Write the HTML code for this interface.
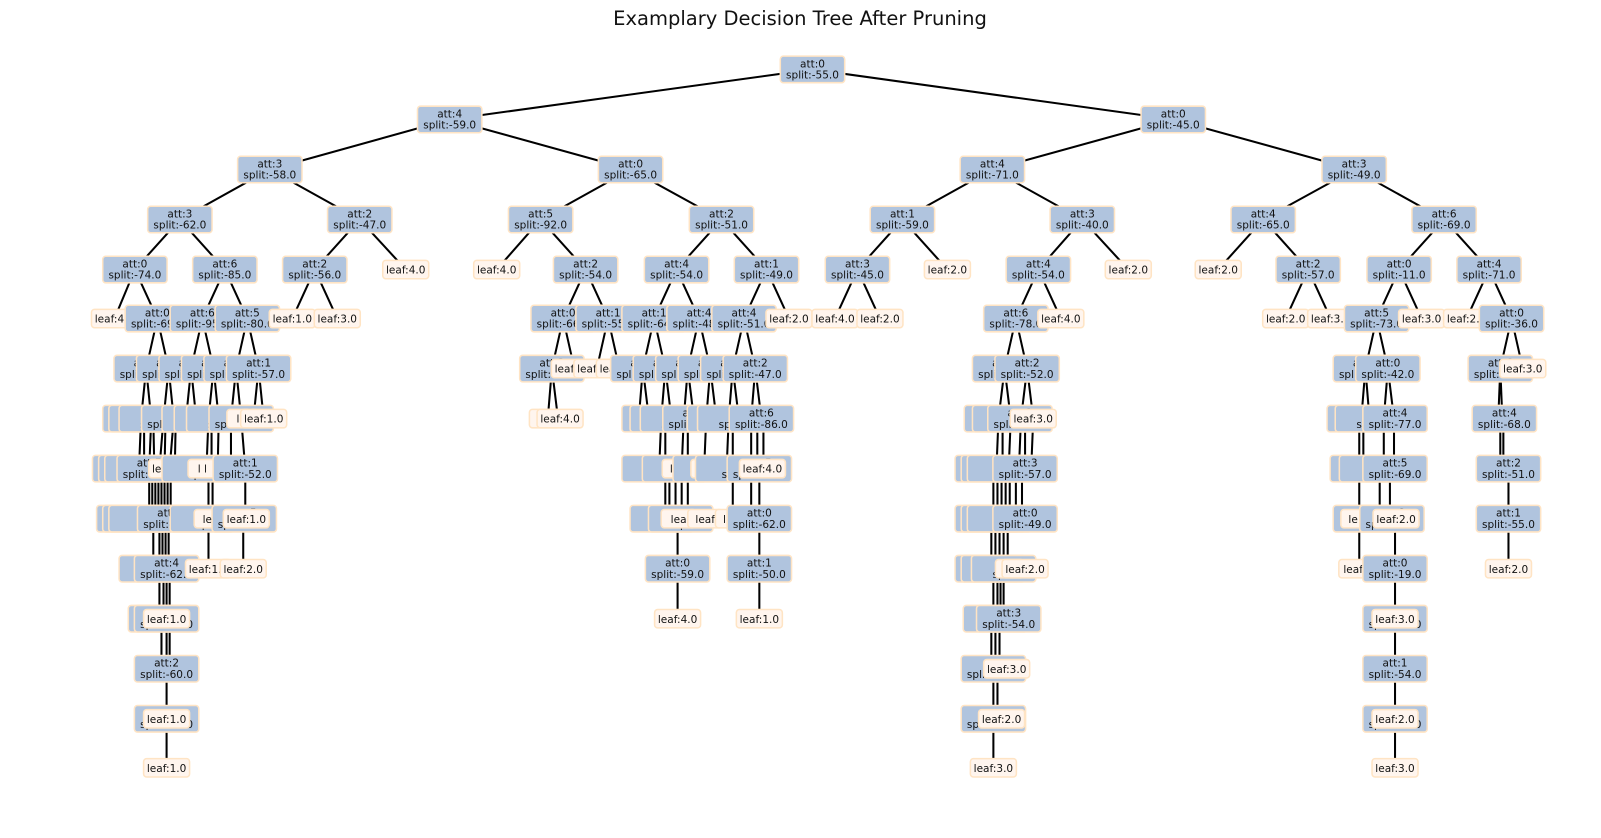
<!DOCTYPE html>
<html><head><meta charset="utf-8"><style>
html,body{margin:0;padding:0;background:#fff;}
svg{display:block}
.b{fill:#b0c4de;stroke:#ffe4c4;stroke-width:1.5}
.l{fill:#fff5ee;stroke:#ffe4c4;stroke-width:1.5}
text{font-family:"DejaVu Sans","Liberation Sans",sans-serif;font-size:10.3px;fill:#111;text-anchor:middle}
.e{stroke:#000;stroke-width:2;fill:none}
</style></head><body>
<svg width="1601" height="838" viewBox="0 0 1601 838" xmlns="http://www.w3.org/2000/svg">
<text x="800" y="25" style="font-size:19.5px">Examplary Decision Tree After Pruning</text>
<g transform="scale(1.022,1.021)">
<path class="e" d="
M795 68L440 117M795 68L1148 117
M440 117L264 166M440 117L617 166M1148 117L971 166M1148 117L1325 166
M264 166L176 215M264 166L352 215M617 166L529 215M617 166L706 215M971 166L883 215M971 166L1059 215M1325 166L1236 215M1325 166L1413 215
M176 215L132 264M176 215L220 264M352 215L308 264M352 215L397 264M529 215L486 264M529 215L573 264M706 215L662 264M706 215L750 264M883 215L839 264M883 215L927 264M1059 215L1016 264M1059 215L1104 264M1236 215L1192 264M1236 215L1280 264M1413 215L1369 264M1413 215L1457 264
M132 264L112 312M132 264L154 312M220 264L198 312M220 264L242 312M308 264L286 312M308 264L330 312M573 264L551 312M573 264L595 312M662 264L640 312M662 264L684 312M750 264L728 312M750 264L772 312M839 264L817 312M839 264L861 312M1016 264L994 312M1016 264L1038 312M1280 264L1258 312M1280 264L1302 312M1369 264L1347 312M1369 264L1391 312M1457 264L1435 312M1457 264L1479 312
M154 312L143 361M154 312L165 361M198 312L187 361M198 312L209 361M242 312L231 361M242 312L253 361M551 312L540 361M551 312L562 361M595 312L584 361M595 312L606 361M640 312L629 361M640 312L651 361M684 312L673 361M684 312L695 361M728 312L717 361M728 312L739 361M994 312L983 361M994 312L1005 361M1347 312L1336 361M1347 312L1358 361M1479 312L1468 361M1479 312L1490 361
M143 361L138 410M143 361L148 410M165 361L160 410M165 361L170 410M187 361L182 410M187 361L192 410M209 361L204 410M209 361L214 410M231 361L226 410M231 361L236 410M253 361L248 410M253 361L258 410
M540 361L536 410M540 361L546 410
M629 361L625 410M629 361L635 410M651 361L647 410M651 361L657 410M673 361L669 410M673 361L679 410M695 361L691 410M695 361L701 410M717 361L713 410M717 361L723 410M739 361L735 410M739 361L745 410
M983 361L977 410M983 361L989 410M1005 361L999 410M1005 361L1011 410
M1336 361L1332 410M1336 361L1340 410M1358 361L1354 410M1358 361L1364 410M1468 361L1466 410M1468 361L1470 410
M138 410L136 459M141 410L141 459M148 410L146 459M150 410L151 459M160 410L156 459M162 410L161 459M170 410L166 459M172 410L171 459M204 410L202 459M207 410L207 459M214 410L213 459M226 410L226 459M236 410L240 459
M647 410L645 459M651 410L651 459M669 410L667 459M673 410L673 459M691 410L689 459M713 410L711 459M717 410L717 459M735 410L735 459M741 410L741 459M747 410L747 459
M977 410L975 459M981 410L981 459M989 410L987 459M999 410L997 459M1003 410L1003 459M1011 410L1009 459
M1330 410L1330 459M1334 410L1334 459M1354 410L1354 459M1364 410L1364 459M1468 410L1468 459M1471 410L1471 459
M146 459L146 508M149 459L149 508M152 459L152 508M155 459L155 508M158 459L158 508M161 459L161 508M164 459L164 508M167 459L167 508M204 459L204 508M208 459L208 508M240 459L240 508
M651 459L651 508M655 459L655 508M661 459L661 508M667 459L667 508M673 459L673 508M717 459L717 508M735 459L735 508M743 459L743 508
M972 459L972 508M976 459L976 508M980 459L980 508M984 459L984 508M988 459L988 508M994 459L994 508M1000 459L1000 508
M1330 459L1330 508M1350 459L1350 508M1360 459L1360 508M1476 459L1476 508
M150 508L150 557M156 508L156 557M159 508L159 557M162 508L162 557M165 508L165 557M204 508L204 557M238 508L238 557
M663 508L663 557M743 508L743 557
M970 508L970 557M974 508L974 557M978 508L978 557M982 508L982 557M986 508L986 557
M1330 508L1330 557M1365 508L1365 557M1476 508L1476 557
M156 557L156 606M160 557L160 606M163 557L163 606M166 557L166 606M663 557L663 606M743 557L743 606
M972 557L972 606M976 557L976 606M979 557L979 606M982 557L982 606M1365 557L1365 606
M158 606L158 655M163 606L163 655M166 606L166 655M970 606L970 655M974 606L974 655M978 606L978 655M1365 606L1365 655
M163 655L163 704M972 655L972 704M976 655L976 704M1365 655L1365 704
M163 704L163 752M972 704L972 752M1365 704L1365 752
"/>
<!-- row 0-3 -->
<g transform="translate(795 68)"><rect class="b" x="-31.5" y="-13" width="63" height="26" rx="3"/><text y="-2">att:0</text><text y="9">split:-55.0</text></g>
<g transform="translate(440 117)"><rect class="b" x="-31.5" y="-13" width="63" height="26" rx="3"/><text y="-2">att:4</text><text y="9">split:-59.0</text></g>
<g transform="translate(1148 117)"><rect class="b" x="-31.5" y="-13" width="63" height="26" rx="3"/><text y="-2">att:0</text><text y="9">split:-45.0</text></g>
<g transform="translate(264 166)"><rect class="b" x="-31.5" y="-13" width="63" height="26" rx="3"/><text y="-2">att:3</text><text y="9">split:-58.0</text></g>
<g transform="translate(617 166)"><rect class="b" x="-31.5" y="-13" width="63" height="26" rx="3"/><text y="-2">att:0</text><text y="9">split:-65.0</text></g>
<g transform="translate(971 166)"><rect class="b" x="-31.5" y="-13" width="63" height="26" rx="3"/><text y="-2">att:4</text><text y="9">split:-71.0</text></g>
<g transform="translate(1325 166)"><rect class="b" x="-31.5" y="-13" width="63" height="26" rx="3"/><text y="-2">att:3</text><text y="9">split:-49.0</text></g>
<g transform="translate(176 215)"><rect class="b" x="-31.5" y="-13" width="63" height="26" rx="3"/><text y="-2">att:3</text><text y="9">split:-62.0</text></g>
<g transform="translate(352 215)"><rect class="b" x="-31.5" y="-13" width="63" height="26" rx="3"/><text y="-2">att:2</text><text y="9">split:-47.0</text></g>
<g transform="translate(529 215)"><rect class="b" x="-31.5" y="-13" width="63" height="26" rx="3"/><text y="-2">att:5</text><text y="9">split:-92.0</text></g>
<g transform="translate(706 215)"><rect class="b" x="-31.5" y="-13" width="63" height="26" rx="3"/><text y="-2">att:2</text><text y="9">split:-51.0</text></g>
<g transform="translate(883 215)"><rect class="b" x="-31.5" y="-13" width="63" height="26" rx="3"/><text y="-2">att:1</text><text y="9">split:-59.0</text></g>
<g transform="translate(1059 215)"><rect class="b" x="-31.5" y="-13" width="63" height="26" rx="3"/><text y="-2">att:3</text><text y="9">split:-40.0</text></g>
<g transform="translate(1236 215)"><rect class="b" x="-31.5" y="-13" width="63" height="26" rx="3"/><text y="-2">att:4</text><text y="9">split:-65.0</text></g>
<g transform="translate(1413 215)"><rect class="b" x="-31.5" y="-13" width="63" height="26" rx="3"/><text y="-2">att:6</text><text y="9">split:-69.0</text></g>
<!-- row 4 -->
<g transform="translate(132 264)"><rect class="b" x="-31.5" y="-13" width="63" height="26" rx="3"/><text y="-2">att:0</text><text y="9">split:-74.0</text></g>
<g transform="translate(220 264)"><rect class="b" x="-31.5" y="-13" width="63" height="26" rx="3"/><text y="-2">att:6</text><text y="9">split:-85.0</text></g>
<g transform="translate(308 264)"><rect class="b" x="-31.5" y="-13" width="63" height="26" rx="3"/><text y="-2">att:2</text><text y="9">split:-56.0</text></g>
<g transform="translate(397 264)"><rect class="l" x="-22.5" y="-9" width="45" height="18" rx="3"/><text y="4">leaf:4.0</text></g>
<g transform="translate(486 264)"><rect class="l" x="-22.5" y="-9" width="45" height="18" rx="3"/><text y="4">leaf:4.0</text></g>
<g transform="translate(573 264)"><rect class="b" x="-31.5" y="-13" width="63" height="26" rx="3"/><text y="-2">att:2</text><text y="9">split:-54.0</text></g>
<g transform="translate(662 264)"><rect class="b" x="-31.5" y="-13" width="63" height="26" rx="3"/><text y="-2">att:4</text><text y="9">split:-54.0</text></g>
<g transform="translate(750 264)"><rect class="b" x="-31.5" y="-13" width="63" height="26" rx="3"/><text y="-2">att:1</text><text y="9">split:-49.0</text></g>
<g transform="translate(839 264)"><rect class="b" x="-31.5" y="-13" width="63" height="26" rx="3"/><text y="-2">att:3</text><text y="9">split:-45.0</text></g>
<g transform="translate(927 264)"><rect class="l" x="-22.5" y="-9" width="45" height="18" rx="3"/><text y="4">leaf:2.0</text></g>
<g transform="translate(1016 264)"><rect class="b" x="-31.5" y="-13" width="63" height="26" rx="3"/><text y="-2">att:4</text><text y="9">split:-54.0</text></g>
<g transform="translate(1104 264)"><rect class="l" x="-22.5" y="-9" width="45" height="18" rx="3"/><text y="4">leaf:2.0</text></g>
<g transform="translate(1192 264)"><rect class="l" x="-22.5" y="-9" width="45" height="18" rx="3"/><text y="4">leaf:2.0</text></g>
<g transform="translate(1280 264)"><rect class="b" x="-31.5" y="-13" width="63" height="26" rx="3"/><text y="-2">att:2</text><text y="9">split:-57.0</text></g>
<g transform="translate(1369 264)"><rect class="b" x="-31.5" y="-13" width="63" height="26" rx="3"/><text y="-2">att:0</text><text y="9">split:-11.0</text></g>
<g transform="translate(1457 264)"><rect class="b" x="-31.5" y="-13" width="63" height="26" rx="3"/><text y="-2">att:4</text><text y="9">split:-71.0</text></g>
<!-- row 5 -->
<g transform="translate(112 312)"><rect class="l" x="-22.5" y="-9" width="45" height="18" rx="3"/><text y="4">leaf:4.0</text></g>
<g transform="translate(154 312)"><rect class="b" x="-31.5" y="-13" width="63" height="26" rx="3"/><text y="-2">att:0</text><text y="9">split:-69.0</text></g>
<g transform="translate(198 312)"><rect class="b" x="-31.5" y="-13" width="63" height="26" rx="3"/><text y="-2">att:6</text><text y="9">split:-95.0</text></g>
<g transform="translate(242 312)"><rect class="b" x="-31.5" y="-13" width="63" height="26" rx="3"/><text y="-2">att:5</text><text y="9">split:-80.0</text></g>
<g transform="translate(286 312)"><rect class="l" x="-22.5" y="-9" width="45" height="18" rx="3"/><text y="4">leaf:1.0</text></g>
<g transform="translate(330 312)"><rect class="l" x="-22.5" y="-9" width="45" height="18" rx="3"/><text y="4">leaf:3.0</text></g>
<g transform="translate(551 312)"><rect class="b" x="-31.5" y="-13" width="63" height="26" rx="3"/><text y="-2">att:0</text><text y="9">split:-66.0</text></g>
<g transform="translate(595 312)"><rect class="b" x="-31.5" y="-13" width="63" height="26" rx="3"/><text y="-2">att:1</text><text y="9">split:-55.0</text></g>
<g transform="translate(640 312)"><rect class="b" x="-31.5" y="-13" width="63" height="26" rx="3"/><text y="-2">att:1</text><text y="9">split:-64.0</text></g>
<g transform="translate(684 312)"><rect class="b" x="-31.5" y="-13" width="63" height="26" rx="3"/><text y="-2">att:4</text><text y="9">split:-48.0</text></g>
<g transform="translate(728 312)"><rect class="b" x="-31.5" y="-13" width="63" height="26" rx="3"/><text y="-2">att:4</text><text y="9">split:-51.0</text></g>
<g transform="translate(772 312)"><rect class="l" x="-22.5" y="-9" width="45" height="18" rx="3"/><text y="4">leaf:2.0</text></g>
<g transform="translate(817 312)"><rect class="l" x="-22.5" y="-9" width="45" height="18" rx="3"/><text y="4">leaf:4.0</text></g>
<g transform="translate(861 312)"><rect class="l" x="-22.5" y="-9" width="45" height="18" rx="3"/><text y="4">leaf:2.0</text></g>
<g transform="translate(994 312)"><rect class="b" x="-31.5" y="-13" width="63" height="26" rx="3"/><text y="-2">att:6</text><text y="9">split:-78.0</text></g>
<g transform="translate(1038 312)"><rect class="l" x="-22.5" y="-9" width="45" height="18" rx="3"/><text y="4">leaf:4.0</text></g>
<g transform="translate(1258 312)"><rect class="l" x="-22.5" y="-9" width="45" height="18" rx="3"/><text y="4">leaf:2.0</text></g>
<g transform="translate(1302 312)"><rect class="l" x="-22.5" y="-9" width="45" height="18" rx="3"/><text y="4">leaf:3.0</text></g>
<g transform="translate(1347 312)"><rect class="b" x="-31.5" y="-13" width="63" height="26" rx="3"/><text y="-2">att:5</text><text y="9">split:-73.0</text></g>
<g transform="translate(1391 312)"><rect class="l" x="-22.5" y="-9" width="45" height="18" rx="3"/><text y="4">leaf:3.0</text></g>
<g transform="translate(1435 312)"><rect class="l" x="-22.5" y="-9" width="45" height="18" rx="3"/><text y="4">leaf:2.0</text></g>
<g transform="translate(1479 312)"><rect class="b" x="-31.5" y="-13" width="63" height="26" rx="3"/><text y="-2">att:0</text><text y="9">split:-36.0</text></g>
<!-- row 6 -->
<g transform="translate(143 361)"><rect class="b" x="-31.5" y="-13" width="63" height="26" rx="3"/><text y="-2">att:1</text><text y="9">split:-70.0</text></g>
<g transform="translate(165 361)"><rect class="b" x="-31.5" y="-13" width="63" height="26" rx="3"/><text y="-2">att:5</text><text y="9">split:-64.0</text></g>
<g transform="translate(180 361)"><rect class="l" x="-12" y="-9" width="30" height="18" rx="3"/><text y="4">le</text></g>
<g transform="translate(187 361)"><rect class="b" x="-31.5" y="-13" width="63" height="26" rx="3"/><text y="-2">att:2</text><text y="9">split:-92.0</text></g>
<g transform="translate(209 361)"><rect class="b" x="-31.5" y="-13" width="63" height="26" rx="3"/><text y="-2">att:0</text><text y="9">split:-83.0</text></g>
<g transform="translate(231 361)"><rect class="b" x="-31.5" y="-13" width="63" height="26" rx="3"/><text y="-2">att:3</text><text y="9">split:-88.0</text></g>
<g transform="translate(253 361)"><rect class="b" x="-31.5" y="-13" width="63" height="26" rx="3"/><text y="-2">att:1</text><text y="9">split:-57.0</text></g>
<g transform="translate(540 361)"><rect class="b" x="-31.5" y="-13" width="63" height="26" rx="3"/><text y="-2">att:3</text><text y="9">split:-70.0</text></g>
<g transform="translate(562 361)"><rect class="l" x="-22.5" y="-9" width="45" height="18" rx="3"/><text y="4">leaf:1.0</text></g>
<g transform="translate(584 361)"><rect class="l" x="-22.5" y="-9" width="45" height="18" rx="3"/><text y="4">leaf:3.0</text></g>
<g transform="translate(606 361)"><rect class="l" x="-22.5" y="-9" width="45" height="18" rx="3"/><text y="4">leaf:1.0</text></g>
<g transform="translate(629 361)"><rect class="b" x="-31.5" y="-13" width="63" height="26" rx="3"/><text y="-2">att:2</text><text y="9">split:-66.0</text></g>
<g transform="translate(651 361)"><rect class="b" x="-31.5" y="-13" width="63" height="26" rx="3"/><text y="-2">att:3</text><text y="9">split:-61.0</text></g>
<g transform="translate(673 361)"><rect class="b" x="-31.5" y="-13" width="63" height="26" rx="3"/><text y="-2">att:5</text><text y="9">split:-50.0</text></g>
<g transform="translate(695 361)"><rect class="b" x="-31.5" y="-13" width="63" height="26" rx="3"/><text y="-2">att:1</text><text y="9">split:-58.0</text></g>
<g transform="translate(717 361)"><rect class="b" x="-31.5" y="-13" width="63" height="26" rx="3"/><text y="-2">att:0</text><text y="9">split:-53.0</text></g>
<g transform="translate(739 361)"><rect class="b" x="-31.5" y="-13" width="63" height="26" rx="3"/><text y="-2">att:2</text><text y="9">split:-47.0</text></g>
<g transform="translate(983 361)"><rect class="b" x="-31.5" y="-13" width="63" height="26" rx="3"/><text y="-2">att:1</text><text y="9">split:-80.0</text></g>
<g transform="translate(1005 361)"><rect class="b" x="-31.5" y="-13" width="63" height="26" rx="3"/><text y="-2">att:2</text><text y="9">split:-52.0</text></g>
<g transform="translate(1336 361)"><rect class="b" x="-31.5" y="-13" width="63" height="26" rx="3"/><text y="-2">att:1</text><text y="9">split:-75.0</text></g>
<g transform="translate(1358 361)"><rect class="b" x="-31.5" y="-13" width="63" height="26" rx="3"/><text y="-2">att:0</text><text y="9">split:-42.0</text></g>
<g transform="translate(1468 361)"><rect class="b" x="-31.5" y="-13" width="63" height="26" rx="3"/><text y="-2">att:6</text><text y="9">split:-40.0</text></g>
<g transform="translate(1490 361)"><rect class="l" x="-22.5" y="-9" width="45" height="18" rx="3"/><text y="4">leaf:3.0</text></g>
<!-- row 7 -->
<g transform="translate(132 410)"><rect class="b" x="-31.5" y="-13" width="63" height="26" rx="3"/><text y="9">split</text></g>
<g transform="translate(138 410)"><rect class="b" x="-31.5" y="-13" width="63" height="26" rx="3"/><text y="9">split</text></g>
<g transform="translate(148 410)"><rect class="b" x="-31.5" y="-13" width="63" height="26" rx="3"/><text y="9">split</text></g>
<g transform="translate(170 410)"><rect class="b" x="-31.5" y="-13" width="63" height="26" rx="3"/><text y="-2">att:5</text><text y="9">split:-61.0</text></g>
<g transform="translate(190 410)"><rect class="b" x="-31.5" y="-13" width="63" height="26" rx="3"/><text y="9">split</text></g>
<g transform="translate(202 410)"><rect class="b" x="-31.5" y="-13" width="63" height="26" rx="3"/><text y="9">split</text></g>
<g transform="translate(214 410)"><rect class="b" x="-31.5" y="-13" width="63" height="26" rx="3"/><text y="9">split</text></g>
<g transform="translate(236 410)"><rect class="b" x="-31.5" y="-13" width="63" height="26" rx="3"/><text y="-2">att:2</text><text y="9">split:-79.0</text></g>
<g transform="translate(236 410)"><rect class="l" x="-14" y="-9" width="30" height="18" rx="3"/><text y="4">le</text></g>
<g transform="translate(258 410)"><rect class="l" x="-22.5" y="-9" width="45" height="18" rx="3"/><text y="4">leaf:1.0</text></g>
<g transform="translate(532 410)"><rect class="l" x="-14" y="-9" width="30" height="18" rx="3"/><text y="4">le</text></g>
<g transform="translate(548 410)"><rect class="l" x="-22.5" y="-9" width="45" height="18" rx="3"/><text y="4">leaf:4.0</text></g>
<g transform="translate(640 410)"><rect class="b" x="-31.5" y="-13" width="63" height="26" rx="3"/><text y="9">split</text></g>
<g transform="translate(648 410)"><rect class="b" x="-31.5" y="-13" width="63" height="26" rx="3"/><text y="9">split</text></g>
<g transform="translate(658 410)"><rect class="b" x="-31.5" y="-13" width="63" height="26" rx="3"/><text y="9">split</text></g>
<g transform="translate(680 410)"><rect class="b" x="-31.5" y="-13" width="63" height="26" rx="3"/><text y="-2">att:3</text><text y="9">split:-52.0</text></g>
<g transform="translate(704 410)"><rect class="b" x="-31.5" y="-13" width="63" height="26" rx="3"/><text y="9">split</text></g>
<g transform="translate(714 410)"><rect class="b" x="-31.5" y="-13" width="63" height="26" rx="3"/><text y="9">split</text></g>
<g transform="translate(745 410)"><rect class="b" x="-31.5" y="-13" width="63" height="26" rx="3"/><text y="-2">att:6</text><text y="9">split:-86.0</text></g>
<g transform="translate(975 410)"><rect class="b" x="-31.5" y="-13" width="63" height="26" rx="3"/><text y="9">split</text></g>
<g transform="translate(983 410)"><rect class="b" x="-31.5" y="-13" width="63" height="26" rx="3"/><text y="9">split</text></g>
<g transform="translate(998 410)"><rect class="b" x="-31.5" y="-13" width="63" height="26" rx="3"/><text y="-2">att:1</text><text y="9">split:-60.0</text></g>
<g transform="translate(1011 410)"><rect class="l" x="-22.5" y="-9" width="45" height="18" rx="3"/><text y="4">leaf:3.0</text></g>
<g transform="translate(1330 410)"><rect class="b" x="-31.5" y="-13" width="63" height="26" rx="3"/><text y="9">split</text></g>
<g transform="translate(1338 410)"><rect class="b" x="-31.5" y="-13" width="63" height="26" rx="3"/><text y="9">split</text></g>
<g transform="translate(1365 410)"><rect class="b" x="-31.5" y="-13" width="63" height="26" rx="3"/><text y="-2">att:4</text><text y="9">split:-77.0</text></g>
<g transform="translate(1472 410)"><rect class="b" x="-31.5" y="-13" width="63" height="26" rx="3"/><text y="-2">att:4</text><text y="9">split:-68.0</text></g>
<!-- row 8 -->
<g transform="translate(122 459)"><rect class="b" x="-31.5" y="-13" width="63" height="26" rx="3"/><text y="9">s</text></g>
<g transform="translate(128 459)"><rect class="b" x="-31.5" y="-13" width="63" height="26" rx="3"/><text y="9">s</text></g>
<g transform="translate(134 459)"><rect class="b" x="-31.5" y="-13" width="63" height="26" rx="3"/><text y="9">s</text></g>
<g transform="translate(146 459)"><rect class="b" x="-31.5" y="-13" width="63" height="26" rx="3"/><text y="-2">att:5</text><text y="9">split:-66.0</text></g>
<g transform="translate(168 459)"><rect class="l" x="-22.5" y="-9" width="45" height="18" rx="3"/><text y="4">leaf:1.0</text></g>
<g transform="translate(190 459)"><rect class="b" x="-31.5" y="-13" width="63" height="26" rx="3"/><text y="9">sp</text></g>
<g transform="translate(198 459)"><rect class="l" x="-14" y="-9" width="30" height="18" rx="3"/><text y="4">l l</text></g>
<g transform="translate(240 459)"><rect class="b" x="-31.5" y="-13" width="63" height="26" rx="3"/><text y="-2">att:1</text><text y="9">split:-52.0</text></g>
<g transform="translate(640 459)"><rect class="b" x="-31.5" y="-13" width="63" height="26" rx="3"/><text y="9">sp</text></g>
<g transform="translate(660 459)"><rect class="b" x="-31.5" y="-13" width="63" height="26" rx="3"/><text y="9">sp</text></g>
<g transform="translate(660 459)"><rect class="l" x="-12" y="-9" width="24" height="18" rx="3"/><text y="4">le</text></g>
<g transform="translate(690 459)"><rect class="b" x="-31.5" y="-13" width="63" height="26" rx="3"/><text y="9">sp</text></g>
<g transform="translate(688 459)"><rect class="l" x="-12" y="-9" width="24" height="18" rx="3"/><text y="4">le</text></g>
<g transform="translate(712 459)"><rect class="b" x="-31.5" y="-13" width="63" height="26" rx="3"/><text y="9">sp</text></g>
<g transform="translate(743 459)"><rect class="b" x="-31.5" y="-13" width="63" height="26" rx="3"/><text y="-2">att:5</text><text y="9">split:-70.0</text></g>
<g transform="translate(746 459)"><rect class="l" x="-22.5" y="-9" width="45" height="18" rx="3"/><text y="4">leaf:4.0</text></g>
<g transform="translate(966 459)"><rect class="b" x="-31.5" y="-13" width="63" height="26" rx="3"/><text y="9">s</text></g>
<g transform="translate(972 459)"><rect class="b" x="-31.5" y="-13" width="63" height="26" rx="3"/><text y="9">s</text></g>
<g transform="translate(978 459)"><rect class="b" x="-31.5" y="-13" width="63" height="26" rx="3"/><text y="9">s</text></g>
<g transform="translate(1003 459)"><rect class="b" x="-31.5" y="-13" width="63" height="26" rx="3"/><text y="-2">att:3</text><text y="9">split:-57.0</text></g>
<g transform="translate(1333 459)"><rect class="b" x="-31.5" y="-13" width="63" height="26" rx="3"/><text y="9">sp</text></g>
<g transform="translate(1342 459)"><rect class="b" x="-31.5" y="-13" width="63" height="26" rx="3"/><text y="9">sp</text></g>
<g transform="translate(1365 459)"><rect class="b" x="-31.5" y="-13" width="63" height="26" rx="3"/><text y="-2">att:5</text><text y="9">split:-69.0</text></g>
<g transform="translate(1476 459)"><rect class="b" x="-31.5" y="-13" width="63" height="26" rx="3"/><text y="-2">att:2</text><text y="9">split:-51.0</text></g>
<!-- row 9 -->
<g transform="translate(126 508)"><rect class="b" x="-31.5" y="-13" width="63" height="26" rx="3"/><text y="9">s</text></g>
<g transform="translate(132 508)"><rect class="b" x="-31.5" y="-13" width="63" height="26" rx="3"/><text y="9">s</text></g>
<g transform="translate(138 508)"><rect class="b" x="-31.5" y="-13" width="63" height="26" rx="3"/><text y="9">s</text></g>
<g transform="translate(166 508)"><rect class="b" x="-31.5" y="-13" width="63" height="26" rx="3"/><text y="-2">att:4</text><text y="9">split:-78.0</text></g>
<g transform="translate(198 508)"><rect class="b" x="-31.5" y="-13" width="63" height="26" rx="3"/><text y="9">sp</text></g>
<g transform="translate(206 508)"><rect class="l" x="-16" y="-9" width="32" height="18" rx="3"/><text y="4">lea</text></g>
<g transform="translate(239 508)"><rect class="b" x="-31.5" y="-13" width="63" height="26" rx="3"/><text y="-2">att:5</text><text y="9">split:-70.0</text></g>
<g transform="translate(241 508)"><rect class="l" x="-22.5" y="-9" width="45" height="18" rx="3"/><text y="4">leaf:1.0</text></g>
<g transform="translate(648 508)"><rect class="b" x="-31.5" y="-13" width="63" height="26" rx="3"/><text y="9">sp</text></g>
<g transform="translate(666 508)"><rect class="b" x="-31.5" y="-13" width="63" height="26" rx="3"/><text y="9">sp</text></g>
<g transform="translate(664 508)"><rect class="l" x="-17" y="-9" width="34" height="18" rx="3"/><text y="4">lea</text></g>
<g transform="translate(690 508)"><rect class="l" x="-17" y="-9" width="34" height="18" rx="3"/><text y="4">leaf</text></g>
<g transform="translate(712 508)"><rect class="l" x="-12" y="-9" width="24" height="18" rx="3"/><text y="4">le</text></g>
<g transform="translate(743 508)"><rect class="b" x="-31.5" y="-13" width="63" height="26" rx="3"/><text y="-2">att:0</text><text y="9">split:-62.0</text></g>
<g transform="translate(966 508)"><rect class="b" x="-31.5" y="-13" width="63" height="26" rx="3"/><text y="9">s</text></g>
<g transform="translate(972 508)"><rect class="b" x="-31.5" y="-13" width="63" height="26" rx="3"/><text y="9">s</text></g>
<g transform="translate(978 508)"><rect class="b" x="-31.5" y="-13" width="63" height="26" rx="3"/><text y="9">s</text></g>
<g transform="translate(1003 508)"><rect class="b" x="-31.5" y="-13" width="63" height="26" rx="3"/><text y="-2">att:0</text><text y="9">split:-49.0</text></g>
<g transform="translate(1336 508)"><rect class="b" x="-31.5" y="-13" width="63" height="26" rx="3"/><text y="9">sp</text></g>
<g transform="translate(1324 508)"><rect class="l" x="-12" y="-9" width="24" height="18" rx="3"/><text y="4">le</text></g>
<g transform="translate(1362 508)"><rect class="b" x="-31.5" y="-13" width="63" height="26" rx="3"/><text y="-2">att:6</text><text y="9">split:-50.0</text></g>
<g transform="translate(1366 508)"><rect class="l" x="-22.5" y="-9" width="45" height="18" rx="3"/><text y="4">leaf:2.0</text></g>
<g transform="translate(1476 508)"><rect class="b" x="-31.5" y="-13" width="63" height="26" rx="3"/><text y="-2">att:1</text><text y="9">split:-55.0</text></g>
<!-- row 10 -->
<g transform="translate(148 557)"><rect class="b" x="-31.5" y="-13" width="63" height="26" rx="3"/><text y="9">s</text></g>
<g transform="translate(163 557)"><rect class="b" x="-31.5" y="-13" width="63" height="26" rx="3"/><text y="-2">att:4</text><text y="9">split:-62.0</text></g>
<g transform="translate(204 557)"><rect class="l" x="-22.5" y="-9" width="45" height="18" rx="3"/><text y="4">leaf:1.0</text></g>
<g transform="translate(238 557)"><rect class="l" x="-22.5" y="-9" width="45" height="18" rx="3"/><text y="4">leaf:2.0</text></g>
<g transform="translate(663 557)"><rect class="b" x="-31.5" y="-13" width="63" height="26" rx="3"/><text y="-2">att:0</text><text y="9">split:-59.0</text></g>
<g transform="translate(743 557)"><rect class="b" x="-31.5" y="-13" width="63" height="26" rx="3"/><text y="-2">att:1</text><text y="9">split:-50.0</text></g>
<g transform="translate(966 557)"><rect class="b" x="-31.5" y="-13" width="63" height="26" rx="3"/><text y="9">s</text></g>
<g transform="translate(972 557)"><rect class="b" x="-31.5" y="-13" width="63" height="26" rx="3"/><text y="9">sp</text></g>
<g transform="translate(982 557)"><rect class="b" x="-31.5" y="-13" width="63" height="26" rx="3"/><text y="9">split</text></g>
<g transform="translate(988 557)"><rect class="l" x="-14" y="-9" width="28" height="18" rx="3"/><text y="4">le</text></g>
<g transform="translate(1003 557)"><rect class="l" x="-22.5" y="-9" width="45" height="18" rx="3"/><text y="4">leaf:2.0</text></g>
<g transform="translate(1324 557)"><rect class="l" x="-14" y="-9" width="30" height="18" rx="3"/><text y="4">leaf</text></g>
<g transform="translate(1365 557)"><rect class="b" x="-31.5" y="-13" width="63" height="26" rx="3"/><text y="-2">att:0</text><text y="9">split:-19.0</text></g>
<g transform="translate(1476 557)"><rect class="l" x="-22.5" y="-9" width="45" height="18" rx="3"/><text y="4">leaf:2.0</text></g>
<!-- row 11 -->
<g transform="translate(157 606)"><rect class="b" x="-31.5" y="-13" width="63" height="26" rx="3"/></g>
<g transform="translate(163 606)"><rect class="b" x="-31.5" y="-13" width="63" height="26" rx="3"/><text y="9">split:-70.0</text></g>
<g transform="translate(163 606)"><rect class="l" x="-22.5" y="-9" width="45" height="18" rx="3"/><text y="4">leaf:1.0</text></g>
<g transform="translate(663 606)"><rect class="l" x="-22.5" y="-9" width="45" height="18" rx="3"/><text y="4">leaf:4.0</text></g>
<g transform="translate(743 606)"><rect class="l" x="-22.5" y="-9" width="45" height="18" rx="3"/><text y="4">leaf:1.0</text></g>
<g transform="translate(974 606)"><rect class="b" x="-31.5" y="-13" width="63" height="26" rx="3"/><text y="9">sp</text></g>
<g transform="translate(987 606)"><rect class="b" x="-31.5" y="-13" width="63" height="26" rx="3"/><text y="-2">att:3</text><text y="9">split:-54.0</text></g>
<g transform="translate(1365 606)"><rect class="b" x="-31.5" y="-13" width="63" height="26" rx="3"/><text y="9">split:-60.0</text></g>
<g transform="translate(1365 606)"><rect class="l" x="-22.5" y="-9" width="45" height="18" rx="3"/><text y="4">leaf:3.0</text></g>
<!-- row 12 -->
<g transform="translate(163 655)"><rect class="b" x="-31.5" y="-13" width="63" height="26" rx="3"/><text y="-2">att:2</text><text y="9">split:-60.0</text></g>
<g transform="translate(972 655)"><rect class="b" x="-31.5" y="-13" width="63" height="26" rx="3"/><text y="9">split:-60.0</text></g>
<g transform="translate(985 655)"><rect class="l" x="-22.5" y="-9" width="45" height="18" rx="3"/><text y="4">leaf:3.0</text></g>
<g transform="translate(1365 655)"><rect class="b" x="-31.5" y="-13" width="63" height="26" rx="3"/><text y="-2">att:1</text><text y="9">split:-54.0</text></g>
<!-- row 13 -->
<g transform="translate(163 704)"><rect class="b" x="-31.5" y="-13" width="63" height="26" rx="3"/><text y="9">split:-70.0</text></g>
<g transform="translate(163 704)"><rect class="l" x="-22.5" y="-9" width="45" height="18" rx="3"/><text y="4">leaf:1.0</text></g>
<g transform="translate(972 704)"><rect class="b" x="-31.5" y="-13" width="63" height="26" rx="3"/><text y="9">split:-50.0</text></g>
<g transform="translate(980 704)"><rect class="l" x="-22.5" y="-9" width="45" height="18" rx="3"/><text y="4">leaf:2.0</text></g>
<g transform="translate(1365 704)"><rect class="b" x="-31.5" y="-13" width="63" height="26" rx="3"/><text y="9">split:-60.0</text></g>
<g transform="translate(1365 704)"><rect class="l" x="-22.5" y="-9" width="45" height="18" rx="3"/><text y="4">leaf:2.0</text></g>
<!-- row 14 -->
<g transform="translate(163 752)"><rect class="l" x="-22.5" y="-9" width="45" height="18" rx="3"/><text y="4">leaf:1.0</text></g>
<g transform="translate(972 752)"><rect class="l" x="-22.5" y="-9" width="45" height="18" rx="3"/><text y="4">leaf:3.0</text></g>
<g transform="translate(1365 752)"><rect class="l" x="-22.5" y="-9" width="45" height="18" rx="3"/><text y="4">leaf:3.0</text></g>
</g>
</svg>
</body></html>
